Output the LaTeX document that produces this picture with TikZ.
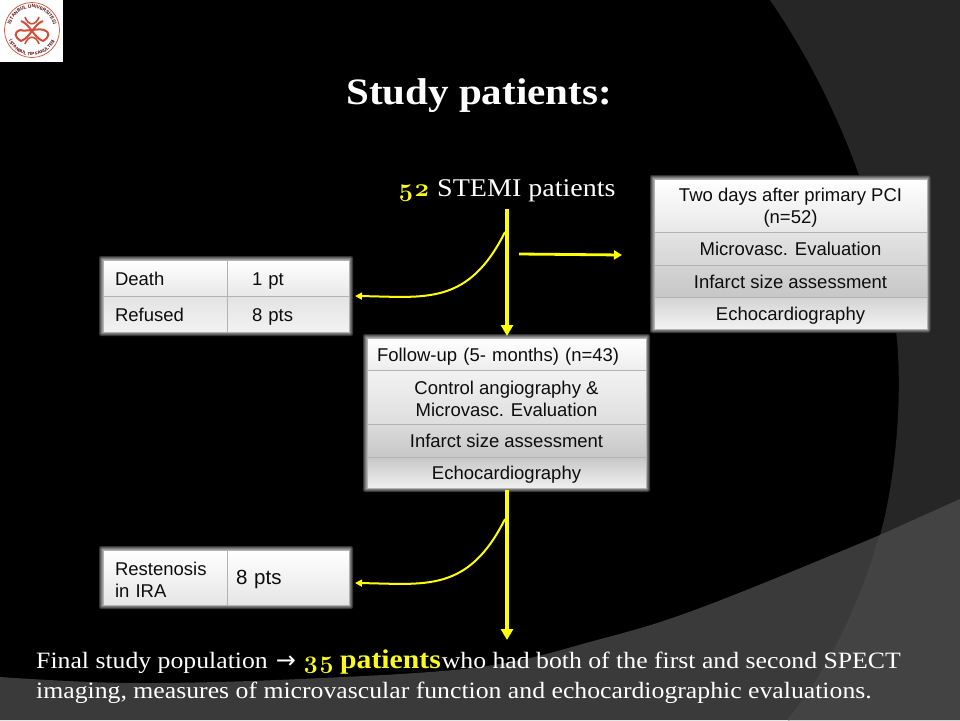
\documentclass[tikz,border=0pt]{standalone}
\usepackage{fontspec}
\usetikzlibrary{arrows.meta,decorations.text}
\setsansfont{Liberation Sans}
\newfontfamily\cons[FakeStretch=1.1]{Liberation Serif}
\newfontfamily\osn[Numbers=OldStyle]{Latin Modern Roman}
\definecolor{arrowy}{HTML}{FFFF00}
\definecolor{numy}{HTML}{FAFA1E}
\definecolor{bgdark}{HTML}{262626}
\definecolor{bgmid}{HTML}{3A3A3A}
\definecolor{bglight}{HTML}{434343}
\definecolor{logored}{HTML}{CF4F38}
\newcommand{\glowbox}[4]{%
  \fill[black!80!white,rounded corners=2pt] (#1-4,#2-4) rectangle (#3+4,#4+4);
  \fill[black!64!white,rounded corners=2pt] (#1-3,#2-3) rectangle (#3+3,#4+3);
  \fill[black!52!white,rounded corners=1pt] (#1-2,#2-2) rectangle (#3+2,#4+2);
  \fill[black!40!white] (#1-1,#2-1) rectangle (#3+1,#4+1);
}
\newcommand{\lowerline}{\rule{0pt}{17.5pt}}
% name x1 y1 x2 y2 topgray botgray extra text
\newcommand{\tcell}[9]{%
  \pgfmathsetmacro{\cw}{#4-#2}\pgfmathsetmacro{\ch}{#5-#3}%
  \node[tcellbox,top color=#6,bottom color=#7,minimum width=\cw pt,minimum height=\ch pt,#8] (#1) at (#2,#3) {#9};
}
\tikzset{
  x=1pt,y=-1pt,
  tcellbox/.style={rectangle,anchor=north west,draw=black!30!white,line width=.7pt,inner sep=0pt,outer sep=0pt,
    font=\sffamily\fontsize{18.5}{21.5}\selectfont,text=black!95,align=center},
  oneline/.style={text height=14.4pt,text depth=0pt},
  leftcell/.style={text width=#1 pt,align=left},
  bigline/.style={arrowy,line width=3.4pt,-{Triangle[length=11pt,width=12pt]}},
  midline/.style={arrowy,line width=2.8pt,-{Triangle[length=8pt,width=9pt]}},
  thinline/.style={arrowy,line width=2pt,-{Triangle[length=7pt,width=7pt]}},
  title/.style={text=white,anchor=base west,inner sep=0pt},
}
\begin{document}
\begin{tikzpicture}
\useasboundingbox (0,0) rectangle (960,720);
% background
\fill[black] (0,0) rectangle (960,720);
\fill[bgdark] (770,0) .. controls (845,110) and (885,230) .. (897,340)
  .. controls (903,410) and (893,490) .. (880,535) -- (960,535) -- (960,0) -- cycle;
\fill[bgmid] plot[smooth,tension=.6] coordinates {(0,677) (130,683) (300,679) (480,667) (597,640) (700,608) (880,535) (960,499)} -- (960,720) -- (0,720) -- cycle;
\fill[bglight] (880,535) .. controls (862,600) and (830,670) .. (788,720) -- (960,720) -- (960,499) -- cycle;
\draw[black!72!white,line width=2.5pt,opacity=.5] (880,536) .. controls (862,600) and (830,670) .. (788,720);
% logo
\fill[white] (0,0) rectangle (63,62);
\draw[logored,line width=.7pt] (32,30) circle (27.5);
\path[decorate,decoration={text along path,text align=center,text={|\sffamily\bfseries\fontsize{4.7}{5}\selectfont\color{black!70!red}|İSTANBUL ÜNİVERSİTESİ}}]
  (10.1,31.9) arc[start angle=185,end angle=-5,radius=22pt];
\path[decorate,decoration={text along path,text align=center,text={|\sffamily\bfseries\fontsize{4.5}{5}\selectfont\color{black!70!red}|İSTANBUL TIP FAKÜLTESİ}}]
  (6.9,34.4) arc[start angle=190,end angle=350,radius=25.5pt];
\draw[logored,line width=2pt] (21,21) .. controls (30,24) and (34,38) .. (43,41)
  .. controls (50,37) and (50,32) .. (44,30) .. controls (38,28) and (26,32) .. (20,30)
  .. controls (14,32) and (14,37) .. (21,41) .. controls (30,38) and (34,24) .. (43,21);
\draw[logored,line width=1.6pt] (25,17) .. controls (28,26) and (36,26) .. (39,17);
\draw[logored,line width=1.6pt] (25,44) .. controls (28,35) and (36,35) .. (39,44);
% titles
\node[title,font=\cons\bfseries\fontsize{37.3}{40}\selectfont] (maintitle) at (346,104) {Study patients:};
\node[title,text=numy,font=\osn\bfseries\fontsize{25.5}{34}\selectfont] (num52) at (398,196) {52};
\node[title,font=\cons\fontsize{25.5}{28}\selectfont] (stemi) at (437,196) {STEMI patients};
% table: losses
\glowbox{103}{260}{349}{332}
\tcell{death}{103}{260}{227}{296}{white}{black!9}{oneline,leftcell=100}{Death}
\tcell{deathn}{227}{260}{349}{296}{white}{black!9}{oneline,leftcell=72}{1 pt}
\tcell{refused}{103}{296}{227}{332}{black!11}{black!5}{oneline,leftcell=100}{Refused}
\tcell{refusedn}{227}{296}{349}{332}{black!11}{black!5}{oneline,leftcell=72}{8 pts}
% table: two days
\glowbox{654}{179}{927}{329}
\tcell{two}{654}{179}{927}{232}{white}{black!9}{}{\lowerline Two days after primary PCI\\(n=52)}
\tcell{microa}{654}{232}{927}{265}{black!11}{black!16}{oneline}{Microvasc. Evaluation}
\tcell{infa}{654}{265}{927}{297}{black!17}{black!22}{oneline}{Infarct size assessment}
\tcell{echoa}{654}{297}{927}{329}{black!17}{black!5}{oneline}{Echocardiography}
% table: follow-up
\glowbox{367}{338}{646}{488}
\tcell{follow}{367}{338}{646}{370}{white}{black!7}{oneline,leftcell=259}{Follow-up (5- months) (n=43)}
\tcell{control}{367}{370}{646}{424}{black!5}{black!13}{}{\lowerline Control angiography \&\\Microvasc. Evaluation}
\tcell{infb}{367}{424}{646}{457}{black!14}{black!22}{oneline}{Infarct size assessment}
\tcell{echob}{367}{457}{646}{488}{black!22}{black!6}{oneline}{Echocardiography}
% table: restenosis
\glowbox{103}{550}{349}{605}
\tcell{rest}{103}{550}{227}{605}{white}{black!10}{leftcell=100}{\lowerline Restenosis\\in IRA}
\tcell{restn}{227}{550}{349}{605}{white}{black!10}{oneline,leftcell=104,font=\sffamily\fontsize{20.5}{22}\selectfont}{8 pts}
% connectors
\coordinate (topstart) at (507,209);
\coordinate (topjoin) at (505,232);
\coordinate (sidestart) at (519,254);
\coordinate (sideend) at (622,255);
\coordinate (lowstart) at (507,490);
\coordinate (lowjoin) at (505,519);
\coordinate (lowend) at (507,640);
\draw[bigline] (topstart) -- ([yshift=2pt]topstart |- follow.north);
\draw[midline] (sidestart) -- (sideend);
\draw[thinline] (topjoin) .. controls (468,306) and (425,297) .. ([xshift=6pt]deathn.south east);
\draw[bigline] (lowstart) -- (lowend);
\draw[thinline] (lowjoin) .. controls (468,593) and (425,584) .. ([xshift=6pt,yshift=-5.5pt]restn.east);
% final text
\node[title,font=\cons\fontsize{23.4}{26}\selectfont] (fin1) at (36,668) {Final study population\hspace{8pt}{\fontspec{DejaVu Sans}\fontsize{24}{24}\selectfont →}\hspace{7pt}{\color{numy}\osn\bfseries\fontsize{25}{26}\selectfont 35}\hspace{6pt}{\color{numy}\bfseries\fontsize{27}{26}\selectfont patients}\hspace{1pt}who had both of the first and second SPECT};
\node[title,font=\cons\fontsize{23.4}{26}\selectfont] (fin2) at (36,698) {imaging, measures of microvascular function and echocardiographic evaluations.};
\end{tikzpicture}
\end{document}
